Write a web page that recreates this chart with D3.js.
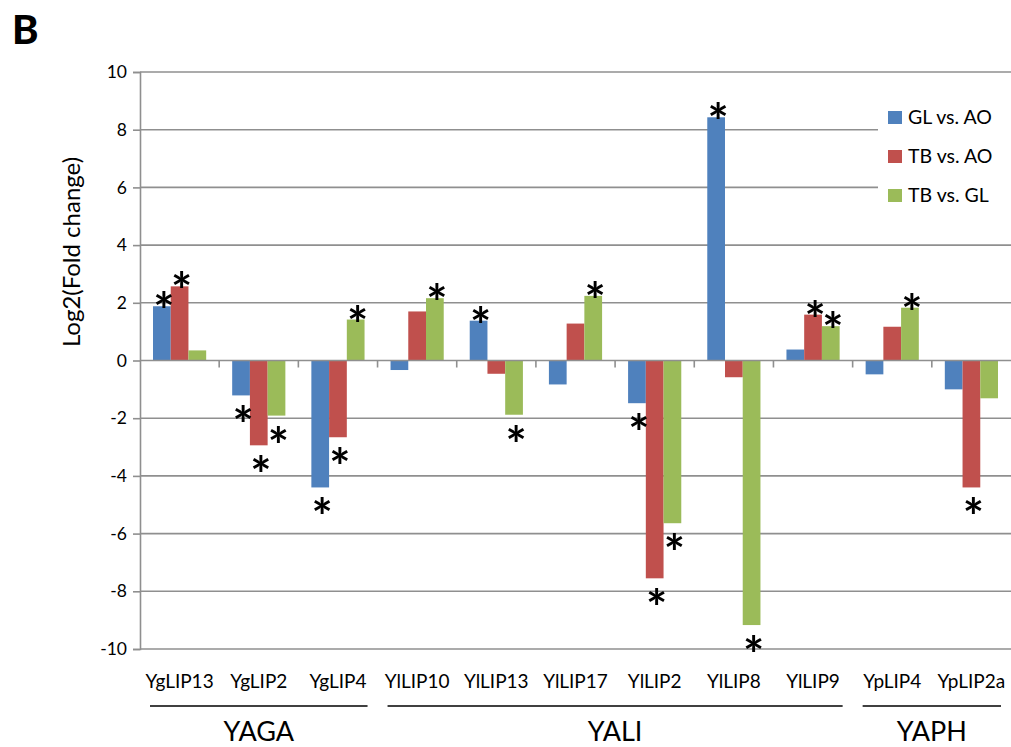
<!DOCTYPE html>
<html>
<head>
<meta charset="utf-8">
<script src="https://cdn.jsdelivr.net/npm/d3@7"></script>
<style>
  html, body { margin: 0; padding: 0; background: #fff; }
  svg { display: block; }
  text { font-family: Lato, "Open Sans", sans-serif; fill: #000; }
</style>
</head>
<body>
<svg id="chart" width="1011" height="747"></svg>
<script>
// Genes along the x axis
const genes = ["YgLIP13", "YgLIP2", "YgLIP4", "YlLIP10", "YlLIP13", "YlLIP17",
               "YlLIP2", "YlLIP8", "YlLIP9", "YpLIP4", "YpLIP2a"];

// Comparisons (legend order)
const seriesNames = ["GL vs. AO", "TB vs. AO", "TB vs. GL"];
const seriesColors = ["#4F81BD", "#C0504D", "#9BBB59"];

// Log2 fold change per gene
const glVsAo = [1.88, -1.21, -4.40, -0.33, 1.38, -0.83, -1.48, 8.43, 0.38, -0.48, -1.00];
const tbVsAo = [2.57, -2.94, -2.66, 1.70, -0.46, 1.28, -7.55, -0.58, 1.59, 1.17, -4.40];
const tbVsGl = [0.35, -1.91, 1.42, 2.16, -1.88, 2.24, -5.64, -9.17, 1.19, 1.83, -1.31];

// Significance marks (1 = asterisk)
const sigGlVsAo = [1, 1, 1, 0, 1, 0, 1, 1, 0, 0, 0];
const sigTbVsAo = [1, 1, 1, 0, 0, 0, 1, 0, 1, 0, 1];
const sigTbVsGl = [0, 1, 1, 1, 1, 1, 1, 1, 1, 1, 0];

// Species groups
const groupNames = ["YAGA", "YALI", "YAPH"];
const groupFirst = ["YgLIP13", "YlLIP10", "YpLIP4"];
const groupLast  = ["YgLIP4", "YlLIP9", "YpLIP2a"];

// Y axis ticks
const yTicks = [10, 8, 6, 4, 2, 0, -2, -4, -6, -8, -10];

const values = [glVsAo, tbVsAo, tbVsGl];
const sigs = [sigGlVsAo, sigTbVsAo, sigTbVsGl];

const svg = d3.select("#chart");
const plot = { left: 140, right: 1011, top: 72, bottom: 649 };

const x = d3.scaleBand().domain(genes).range([plot.left, plot.right]).padding(0);
const xs = d3.scaleBand().domain(d3.range(3))
  .range([13, x.bandwidth() - 13]).padding(0);
const y = d3.scaleLinear().domain([-10, 10]).range([plot.bottom, plot.top]);

const gridColor = "#8f8f8f";

// Horizontal gridlines
svg.append("g").selectAll("line")
  .data(yTicks.filter(t => t !== 0))
  .join("line")
  .attr("x1", plot.left).attr("x2", plot.right)
  .attr("y1", d => y(d)).attr("y2", d => y(d))
  .attr("stroke", gridColor).attr("stroke-width", 1.6);

// Y axis
const yAxis = d3.axisLeft(y).tickValues(yTicks).tickSize(7).tickPadding(6)
  .tickFormat(d => d3.format("d")(d).replace("−", "-"));
const gy = svg.append("g").attr("transform", `translate(${plot.left},0)`).call(yAxis);
gy.select(".domain").attr("stroke", gridColor).attr("stroke-width", 1.6);
gy.selectAll(".tick line").attr("stroke", gridColor).attr("stroke-width", 1.6);
gy.selectAll(".tick text").attr("font-size", 17.5).attr("font-family", "Lato, sans-serif")
  .attr("fill", "#000");

// Bars
const barGroups = svg.append("g").selectAll("g")
  .data(genes)
  .join("g")
  .attr("transform", d => `translate(${x(d)},0)`);

barGroups.selectAll("rect")
  .data((g, gi) => values.map((v, si) => ({ si, v: v[gi] })))
  .join("rect")
  .attr("x", d => xs(d.si))
  .attr("width", xs.bandwidth())
  .attr("y", d => y(Math.max(0, d.v)))
  .attr("height", d => Math.abs(y(d.v) - y(0)))
  .attr("fill", d => seriesColors[d.si]);

// X axis at zero with ticks between genes
const xAxisG = svg.append("g");
xAxisG.append("line")
  .attr("x1", plot.left).attr("x2", plot.right)
  .attr("y1", y(0)).attr("y2", y(0))
  .attr("stroke", gridColor).attr("stroke-width", 1.6);
xAxisG.selectAll("line.tick")
  .data(genes.slice(1))
  .join("line")
  .attr("class", "tick")
  .attr("x1", d => x(d)).attr("x2", d => x(d))
  .attr("y1", y(0)).attr("y2", y(0) + 7)
  .attr("stroke", gridColor).attr("stroke-width", 1.6);

// Significance asterisks
barGroups.selectAll("text.sig")
  .data((g, gi) => values.map((v, si) => ({ si, v: v[gi], s: sigs[si][gi] })).filter(d => d.s))
  .join("text")
  .attr("class", "sig")
  .attr("x", d => xs(d.si) + xs.bandwidth() / 2 + 2)
  .attr("y", d => d.v >= 0 ? y(d.v) + 23 : y(d.v) + 48)
  .attr("text-anchor", "middle")
  .attr("font-family", "DejaVu Sans, sans-serif")
  .attr("font-weight", "bold")
  .attr("font-size", 50)
  .text("*");

// Gene labels
svg.append("g").selectAll("text")
  .data(genes)
  .join("text")
  .attr("x", d => x(d) + x.bandwidth() / 2)
  .attr("y", 688)
  .attr("text-anchor", "middle")
  .attr("font-size", 19)
  .text(d => d);

// Species group lines and labels
const groups = groupNames.map((n, i) => ({
  name: n,
  x1: x(groupFirst[i]) + 10,
  x2: x(groupLast[i]) + x.bandwidth() - 10
}));
const gg = svg.append("g");
gg.selectAll("line")
  .data(groups)
  .join("line")
  .attr("x1", d => d.x1).attr("x2", d => d.x2)
  .attr("y1", 706).attr("y2", 706)
  .attr("stroke", "#000").attr("stroke-width", 1.5);
gg.selectAll("text")
  .data(groups)
  .join("text")
  .attr("x", d => (d.x1 + d.x2) / 2)
  .attr("y", 741)
  .attr("text-anchor", "middle")
  .attr("font-size", 27)
  .text(d => d.name);

// Y axis title
svg.append("text")
  .attr("transform", "translate(80,252) rotate(-90)")
  .attr("text-anchor", "middle")
  .attr("font-size", 24)
  .text("Log2(Fold change)");

// Legend
const legend = svg.append("g");
legend.append("rect")
  .attr("x", 878).attr("y", 92).attr("width", 133).attr("height", 124)
  .attr("fill", "#fff");
const li = legend.selectAll("g.item")
  .data(seriesNames)
  .join("g")
  .attr("class", "item")
  .attr("transform", (d, i) => `translate(888,${111 + i * 39})`);
li.append("rect")
  .attr("width", 14).attr("height", 13)
  .attr("fill", (d, i) => seriesColors[i]);
li.append("text")
  .attr("x", 20).attr("y", 13)
  .attr("font-size", 19.5)
  .text(d => d);

// Panel letter
svg.append("text")
  .attr("x", 12).attr("y", 44)
  .attr("font-size", 40)
  .attr("font-weight", "900")
  .text("B");
</script>
</body>
</html>
